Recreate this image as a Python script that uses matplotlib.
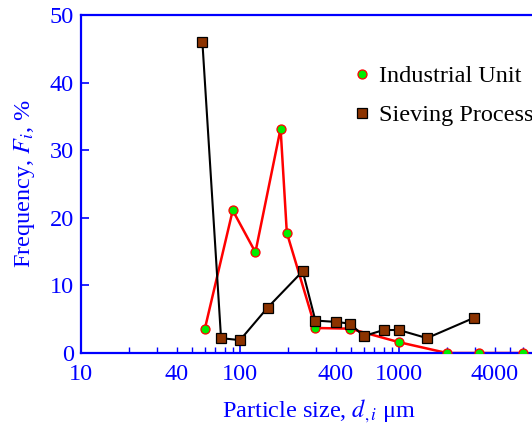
import matplotlib
matplotlib.use('Agg')
import matplotlib.pyplot as plt

# particle size distributions
ind_size = [60, 90, 125, 180, 197, 298, 492, 1000, 2000, 3200, 6000]
ind_freq = [3.5, 21.1, 14.9, 33.2, 17.8, 3.7, 3.6, 1.6, 0.0, 0.0, 0.0]

sieve_size = [58, 76, 100, 149, 248, 298, 400, 492, 600, 800, 1000, 1500, 2960]
sieve_freq = [46.0, 2.2, 1.9, 6.7, 12.1, 4.8, 4.6, 4.35, 2.5, 3.4, 3.4, 2.2, 5.2]

x_major = [10, 100, 1000]
x_minor_labels = {40: '40', 400: '400', 4000: '4000'}

plt.rcParams['font.family'] = ['Liberation Serif', 'DejaVu Serif']
plt.rcParams['mathtext.fontset'] = 'stix'

blue = '#0000ff'
fs = 17.5
fig = plt.figure(figsize=(5.32, 4.25), dpi=100)
ax = fig.add_axes([81 / 532, 72 / 425, 477 / 532, 338 / 425])

ax.plot(ind_size, ind_freq, color='red', lw=1.8, zorder=2)
ax.plot(sieve_size, sieve_freq, color='black', lw=1.5, zorder=2)
ax.plot(ind_size, ind_freq, ls='none', marker='o', ms=6.5, mfc='#00ee00', mec='red',
        mew=0.9, label='Industrial Unit', zorder=3)
ax.plot(sieve_size, sieve_freq, ls='none', marker='s', ms=7, mfc='#8c3300', mec='black',
        mew=0.9, label='Sieving Process', zorder=3)

ax.set_xscale('log')
ax.set_xlim(10, 10000)
ax.set_ylim(0, 50)

minor = [m * d for d in (10, 100, 1000) for m in range(2, 10)]
ax.set_xticks(x_major)
ax.set_xticklabels([str(v) for v in x_major])
ax.set_xticks(minor, minor=True)
ax.set_xticklabels([x_minor_labels.get(v, '') for v in minor], minor=True)
ax.set_yticks(range(0, 51, 10))

ax.tick_params(axis='both', which='both', direction='in', colors=blue, labelsize=fs,
               top=False, right=False)
ax.tick_params(axis='x', which='major', length=7, width=1.2, pad=8)
ax.tick_params(axis='x', which='minor', length=4, width=1.0, pad=8)
ax.tick_params(axis='y', length=6, width=1.2, pad=5)

for s in ax.spines.values():
    s.set_color(blue)
    s.set_linewidth(1.6)
ax.spines['right'].set_visible(False)

ax.set_xlabel('Particle size, $d_{,i}$ \u03bcm', color=blue, fontsize=fs, labelpad=9)
ax.set_ylabel('Frequency, $F_i$, %', color=blue, fontsize=fs, labelpad=9)

ax.legend(loc='upper left', bbox_to_anchor=(353 / 532, 1 - 65 / 425),
          bbox_transform=fig.transFigure, frameon=False, fontsize=fs,
          handlelength=0.7, handletextpad=0.35, borderpad=0, borderaxespad=0,
          labelspacing=0.7, numpoints=1)

fig.savefig('out.png', dpi=100)
